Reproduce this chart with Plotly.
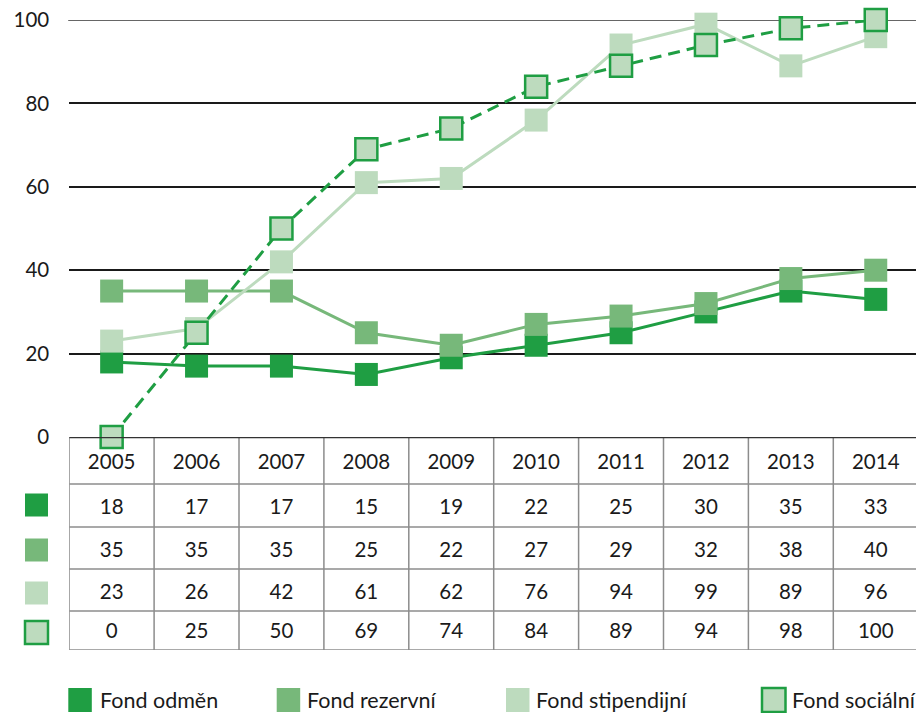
import plotly.graph_objects as go

# ---------------- data ----------------
years = ["2005", "2006", "2007", "2008", "2009", "2010", "2011", "2012", "2013", "2014"]
fond_odmen = [18, 17, 17, 15, 19, 22, 25, 30, 35, 33]
fond_rezervni = [35, 35, 35, 25, 22, 27, 29, 32, 38, 40]
fond_stipendijni = [23, 26, 42, 61, 62, 76, 94, 99, 89, 96]
fond_socialni = [0, 25, 50, 69, 74, 84, 89, 94, 98, 100]
series_names = ["Fond odměn", "Fond rezervní", "Fond stipendijní", "Fond sociální"]
y_ticks = [0, 20, 40, 60, 80, 100]

# ---------------- styling / layout constants ----------------
W, H = 916, 713
FONT = "Lato"
FS = 20.5
LEG_FS = 21.5
TXT = "#1a1a1a"
DARK = "#1f9e43"
MED = "#77b87a"
LIGHT = "#bddbbe"

def px(x):
    return x / W

def py(y):
    return 1 - y / H

X0 = 69.2          # left edge of plot / table (pixels)
STEP = 84.9        # column width (pixels)
x_max = -0.5 + (W - X0) / STEP

PLOT_TOP, PLOT_BOTTOM = 20, 437
TABLE_BOTTOM = 650
row_edges = [484, 527, 569, 611, 650]
row_text_y = [464, 509, 552, 594, 633]
key_y = [505, 550, 593, 632.5]

xi = list(range(len(years)))
series = [fond_odmen, fond_rezervni, fond_stipendijni, fond_socialni]
fills = [DARK, MED, LIGHT, LIGHT]
borders = [DARK, MED, LIGHT, DARK]
bwidth = [0, 0, 0, 2.5]
dashes = ["solid", "solid", "solid", "12px,7px"]
line_cols = [DARK, MED, LIGHT, DARK]

fig = go.Figure()

for vals, name, fc, bc, bw, dash, lc in zip(series, series_names, fills, borders, bwidth, dashes, line_cols):
    fig.add_trace(go.Scatter(
        x=xi, y=vals, name=name, mode="lines+markers",
        line=dict(color=lc, width=3, dash=dash),
        marker=dict(symbol="square", size=22 if bw else 23, color=fc,
                    line=dict(color=bc, width=bw)),
        cliponaxis=False, xaxis="x", yaxis="y", hoverinfo="skip",
    ))

# table text
table_rows = [years] + [[str(v) for v in s] for s in series]
for ty, row in zip(row_text_y, table_rows):
    fig.add_trace(go.Scatter(
        x=xi, y=[ty] * len(xi), mode="text", text=row,
        textfont=dict(family=FONT, size=FS, color=TXT),
        textposition="middle center", cliponaxis=False,
        xaxis="x", yaxis="y2", hoverinfo="skip",
    ))

shapes = []
# top gridline (plotly skips the gridline sitting on the range edge)
shapes.append(dict(type="line", xref="paper", yref="y", x0=px(X0 - 1), x1=1,
                   y0=y_ticks[-1], y1=y_ticks[-1], layer="below",
                   line=dict(color="#333333", width=1.5)))

GRID = "#8c8c8c"
# horizontal table lines
for ye in row_edges:
    shapes.append(dict(type="line", xref="x", yref="y2", x0=-0.5, x1=x_max + 0.1,
                       y0=ye, y1=ye, line=dict(color=GRID, width=1.5)))
# vertical table lines
for i in range(len(years)):
    xv = -0.5 + i
    shapes.append(dict(type="line", xref="x", yref="y2", x0=xv, x1=xv,
                       y0=PLOT_BOTTOM, y1=TABLE_BOTTOM, line=dict(color=GRID, width=1.5)))
# top border of table (= zero line)
shapes.append(dict(type="line", xref="x", yref="y2", x0=-0.5, x1=x_max + 0.1,
                   y0=PLOT_BOTTOM, y1=PLOT_BOTTOM, line=dict(color="#333333", width=2.5)))

# row keys on the left of the table
for k, ky in enumerate(key_y):
    half = 11.5
    shapes.append(dict(type="rect", xref="paper", yref="paper",
                       x0=px(36.5 - half), x1=px(36.5 + half), y0=py(ky + half), y1=py(ky - half),
                       fillcolor=fills[k], line=dict(color=borders[k], width=bwidth[k] if bwidth[k] else 0)))

# bottom legend
legend_sq_x = [68.3, 276.7, 506, 762]
legend_txt_x = [97.5, 305, 533.5, 790]
LEG_Y = 700
annotations = []
for k, (sx, tx) in enumerate(zip(legend_sq_x, legend_txt_x)):
    shapes.append(dict(type="rect", xref="paper", yref="paper",
                       x0=px(sx), x1=px(sx + 23.5), y0=py(LEG_Y + 12), y1=py(LEG_Y - 12),
                       fillcolor=fills[k], line=dict(color=borders[k], width=bwidth[k] if bwidth[k] else 0)))
    annotations.append(dict(xref="paper", yref="paper", x=px(tx), y=py(LEG_Y),
                            xanchor="left", yanchor="middle", showarrow=False,
                            text=series_names[k], font=dict(family=FONT, size=LEG_FS, color=TXT)))

fig.update_layout(
    width=W, height=H,
    margin=dict(l=0, r=0, t=0, b=0, autoexpand=False),
    paper_bgcolor="white", plot_bgcolor="white",
    showlegend=False,
    font=dict(family=FONT, size=FS, color=TXT),
    xaxis=dict(domain=[px(X0), 1], range=[-0.5, x_max], visible=False, fixedrange=True,
               automargin=False),
    yaxis=dict(domain=[py(PLOT_BOTTOM), py(PLOT_TOP)], range=[0, 100], tickvals=y_ticks,
               showgrid=True, gridcolor="#1a1a1a", gridwidth=1.5, zeroline=False,
               showline=False, ticks="", ticklabelstandoff=19, automargin=False,
               tickfont=dict(family=FONT, size=FS, color=TXT), anchor="x"),
    yaxis2=dict(domain=[py(TABLE_BOTTOM), py(PLOT_BOTTOM)], range=[TABLE_BOTTOM, PLOT_BOTTOM],
                visible=False, anchor="x", automargin=False),
    shapes=shapes,
    annotations=annotations,
)

fig.write_html("out.html")
